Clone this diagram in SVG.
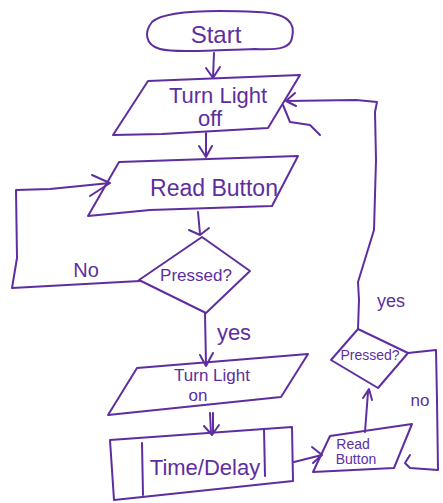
<svg xmlns="http://www.w3.org/2000/svg" width="443" height="503" viewBox="0 0 443 503">
  <defs>
    <style>
      .ln { fill: none; stroke: #5e2ea0; stroke-width: 2; stroke-linecap: round; stroke-linejoin: round; }
      .tx { fill: #5e2ea0; font-family: "Liberation Sans", Arial, sans-serif; text-anchor: middle; }
    </style>
  </defs>
  <rect width="443" height="503" fill="#ffffff"/>

  <!-- connectors -->
  <g id="connectors">
    <!-- start -> turn light off -->
    <path class="ln" d="M214 53 L213 78 M206 68 L213 78 L220 67"/>
    <!-- turn light off -> read button -->
    <path class="ln" d="M206 133 L206 157 M199 146 L206 157 L212 146"/>
    <!-- read button -> pressed? -->
    <path class="ln" d="M198 212 L200 234 M189 230 L200 235 L209 228"/>
    <!-- no loop back to read button -->
    <path class="ln" d="M140 281 L12 288 L17 258 L16 190 L50 189 L110 183 M92 175 L110 183 L90 196"/>
    <!-- yes -> turn light on -->
    <path class="ln" d="M205 313 L206 365 M200 355 L206 366 L213 353"/>
    <!-- turn light on -> time delay -->
    <path class="ln" d="M210 413 L211 434 M213 413 L213 432 M204 426 L212 435 L219 425"/>
    <!-- time delay -> small read button -->
    <path class="ln" d="M294 462 L322 455 M312 447 L322 455 L313 463"/>
    <!-- small read button -> small pressed? -->
    <path class="ln" d="M365 432 L368 392 M363 398 L369 389 L372 400"/>
    <!-- no loop on small pressed? -->
    <path class="ln" d="M408 353 L436 350 L437 400 L438 470 L410 468 L405 463 L410 455"/>
    <!-- yes loop back up to turn light off -->
    <path class="ln" d="M358 329 L359 300 L358 282 L374 230 L376 160 L375 112 L377 102 L356 100 L286 101 M295 93 L286 101 L296 106"/>
    <!-- stray stroke -->
    <path class="ln" d="M283 105 L290 122 L310 125 L320 135"/>
  </g>

  <!-- labels -->
  <g id="labels">
    <text class="tx" x="86" y="277" font-size="20">No</text>
    <text class="tx" x="234" y="340" font-size="22">yes</text>
    <text class="tx" x="391" y="307" font-size="18">yes</text>
    <text class="tx" x="420" y="406" font-size="17">no</text>
  </g>

  <g id="start">
    <path class="ln" d="M152 22 C165 10 215 10 257 12 C287 13 296 22 292 38 C290 48 280 50 255 49 C215 50 175 53 160 49 C145 45 144 32 152 22 Z"/>
    <text class="tx" x="216" y="43" font-size="24">Start</text>
  </g>

  <g id="turn-light-off">
    <path class="ln" d="M148 81 L300 75 L268 128 L162 134 L113 135 Z"/>
    <text class="tx" x="218" y="103" font-size="22">Turn Light</text>
    <text class="tx" x="210" y="126" font-size="22">off</text>
  </g>

  <g id="read-button">
    <path class="ln" d="M119 162 L298 156 L272 206 L150 210 L88 216 Z"/>
    <text class="tx" x="214" y="196" font-size="23">Read Button</text>
  </g>

  <g id="pressed">
    <path class="ln" d="M202 237 L250 271 L206 313 L139 280 Z"/>
    <text class="tx" x="196" y="281" font-size="17">Pressed?</text>
  </g>

  <g id="turn-light-on">
    <path class="ln" d="M137 368 L308 354 L281 397 L108 415 Z"/>
    <text class="tx" x="212" y="381" font-size="17">Turn Light</text>
    <text class="tx" x="198" y="401" font-size="17">on</text>
  </g>

  <g id="time-delay">
    <path class="ln" d="M110 440 L292 427 L293 481 L114 500 Z"/>
    <path class="ln" d="M142 443 L143 495 M264 429 L265 476"/>
    <text class="tx" x="205" y="475" font-size="22">Time/Delay</text>
  </g>

  <g id="read-button-2">
    <path class="ln" d="M330 436 L412 424 L394 468 L313 472 Z"/>
    <text class="tx" x="353" y="449" font-size="14">Read</text>
    <text class="tx" x="356" y="464" font-size="14">Button</text>
  </g>

  <g id="pressed-2">
    <path class="ln" d="M358 329 L408 353 L378 388 L331 360 Z"/>
    <text class="tx" x="370" y="360" font-size="14">Pressed?</text>
  </g>
</svg>
